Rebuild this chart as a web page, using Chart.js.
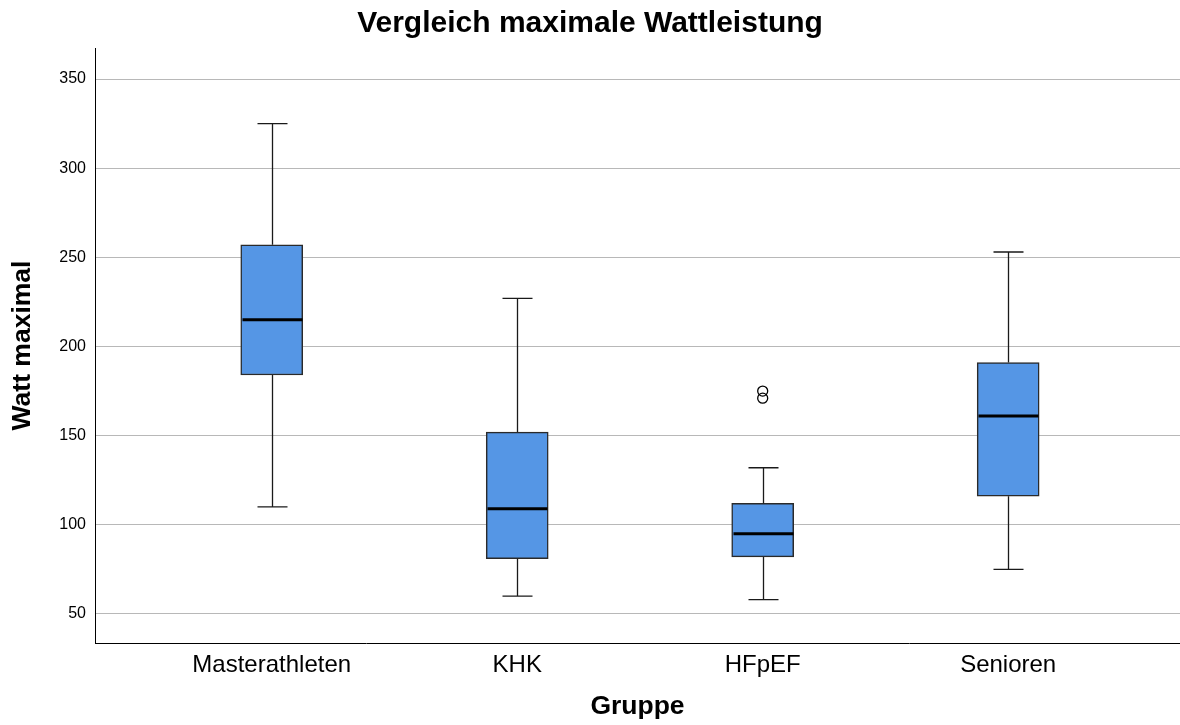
<!DOCTYPE html>
<html>
<head>
<meta charset="utf-8">
<script src="https://cdn.jsdelivr.net/npm/chart.js@4/dist/chart.umd.min.js"></script>
<style>
  html, body { margin: 0; padding: 0; background: #fff; }
  #wrap { width: 1180px; height: 725px; position: relative; }
</style>
</head>
<body>
<div id="wrap"><canvas id="c" width="1180" height="725"></canvas></div>
<script>
// ---- data ----
const categories = ["Masterathleten", "KHK", "HFpEF", "Senioren"];
const whiskerLow  = [110, 60, 58, 75];
const q1          = [184, 81, 82, 116];
const median      = [215, 109, 95, 161];
const q3          = [257, 152, 112, 191];
const whiskerHigh = [325, 227, 132, 253];
const outlierGroup = [2, 2];
const outlierValue = [175, 171];
const yTicks = [50, 100, 150, 200, 250, 300, 350];

const boxData = categories.map((c, i) => ({ x: i, y: [q1[i], q3[i]] }));
const outlierData = outlierGroup.map((g, i) => ({ x: g, y: outlierValue[i] }));

const boxPlugin = {
  id: 'boxWhiskers',
  afterDatasetsDraw(chart) {
    const { ctx, scales: { x, y } } = chart;
    const halfBox = 31, halfCap = 15;
    ctx.save();
    categories.forEach((c, i) => {
      const cx = Math.round(x.getPixelForValue(i)) + 0.5;
      ctx.strokeStyle = '#1a1a1a';
      ctx.lineWidth = 1.3;
      ctx.beginPath();
      ctx.moveTo(cx, y.getPixelForValue(q3[i]));
      ctx.lineTo(cx, y.getPixelForValue(whiskerHigh[i]));
      ctx.moveTo(cx - halfCap, y.getPixelForValue(whiskerHigh[i]));
      ctx.lineTo(cx + halfCap, y.getPixelForValue(whiskerHigh[i]));
      ctx.moveTo(cx, y.getPixelForValue(q1[i]));
      ctx.lineTo(cx, y.getPixelForValue(whiskerLow[i]));
      ctx.moveTo(cx - halfCap, y.getPixelForValue(whiskerLow[i]));
      ctx.lineTo(cx + halfCap, y.getPixelForValue(whiskerLow[i]));
      ctx.stroke();
      ctx.strokeStyle = '#000';
      ctx.lineWidth = 3;
      ctx.beginPath();
      ctx.moveTo(cx - halfBox + 1, y.getPixelForValue(median[i]));
      ctx.lineTo(cx + halfBox - 1, y.getPixelForValue(median[i]));
      ctx.stroke();
    });
    ctx.restore();
  }
};

const FONT = 'Liberation Sans, Arial, sans-serif';

new Chart(document.getElementById('c'), {
  type: 'bar',
  data: {
    datasets: [
      {
        type: 'bar',
        data: boxData,
        backgroundColor: '#5596e5',
        borderColor: '#2a2a2a',
        borderWidth: 1.5,
        borderSkipped: false,
        barThickness: 62,
        order: 2
      },
      {
        type: 'scatter',
        data: outlierData,
        pointStyle: 'circle',
        pointRadius: 5,
        pointBackgroundColor: 'rgba(255,255,255,0)',
        pointBorderColor: '#000',
        pointBorderWidth: 1.3,
        order: 1
      }
    ]
  },
  options: {
    responsive: false,
    animation: false,
    layout: { padding: 0, autoPadding: false },
    plugins: {
      legend: { display: false },
      tooltip: { enabled: false },
      title: {
        display: true,
        text: 'Vergleich maximale Wattleistung',
        color: '#000',
        font: { family: FONT, size: 30, weight: 'bold', lineHeight: 1.2 },
        padding: { top: 6, bottom: 6 }
      }
    },
    scales: {
      x: {
        type: 'linear',
        offset: false,
        min: -0.72,
        max: 3.70,
        afterBuildTicks(scale) { scale.ticks = categories.map((c, i) => ({ value: i })); },
        afterFit(scale) { scale.height = 82; },
        ticks: {
          callback: (v) => categories[v],
          color: '#000',
          font: { family: FONT, size: 24 },
          padding: 8,
          maxRotation: 0,
          autoSkip: false
        },
        grid: { display: false, drawTicks: false, offset: false },
        border: { display: true, color: '#000', width: 1 },
        title: {
          display: true,
          text: 'Gruppe',
          color: '#000',
          font: { family: FONT, size: 26.5, weight: 'bold', lineHeight: 1.2 },
          padding: { top: 0, bottom: 2 }
        }
      },
      y: {
        type: 'linear',
        min: 33.7,
        max: 367.4,
        afterBuildTicks(scale) { scale.ticks = yTicks.map(v => ({ value: v })); },
        afterFit(scale) { scale.width = 95; },
        ticks: {
          color: '#000',
          font: { family: FONT, size: 16 },
          padding: 9
        },
        grid: { color: '#b8b8b8', lineWidth: 1, drawTicks: false },
        border: { display: true, color: '#000', width: 1 },
        title: {
          display: true,
          text: 'Watt maximal',
          color: '#000',
          font: { family: FONT, size: 26.5, weight: 'bold', lineHeight: 1.2 },
          padding: { top: 7, bottom: 0 }
        }
      }
    }
  },
  plugins: [boxPlugin]
});
</script>
</body>
</html>
